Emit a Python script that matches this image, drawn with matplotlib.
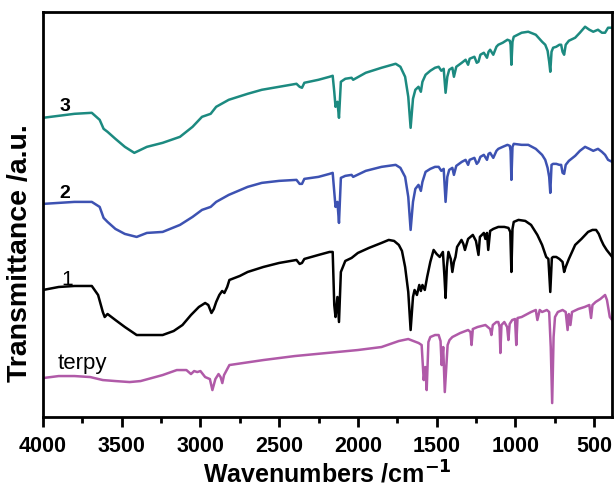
import matplotlib.pyplot as plt

plt.rcParams["font.family"] = ["Liberation Sans", "DejaVu Sans"]

# (wavenumber cm-1, transmittance a.u.)
spec_3 = [
    (4000, 299), (3900, 301), (3800, 303), (3690, 304), (3640, 297), (3615, 288),
    (3590, 285), (3540, 278), (3480, 270), (3420, 264), (3340, 270), (3240, 274),
    (3130, 280), (3050, 290), (2990, 300), (2935, 303), (2900, 310), (2820, 317),
    (2700, 323), (2610, 327), (2500, 330), (2390, 333), (2370, 330), (2355, 329),
    (2340, 334), (2250, 337), (2180, 340), (2160, 341), (2150, 325), (2142, 310),
    (2130, 315), (2120, 299), (2108, 335), (2080, 338), (2040, 339), (2030, 337),
    (1950, 344), (1850, 349), (1760, 353), (1730, 350), (1700, 340), (1680, 320),
    (1665, 289), (1650, 318), (1635, 327), (1615, 330), (1600, 325), (1590, 335),
    (1570, 342), (1540, 346), (1510, 349), (1487, 350), (1470, 346), (1455, 348),
    (1443, 324), (1432, 340), (1420, 347), (1400, 349), (1390, 340), (1375, 350),
    (1340, 354), (1316, 357), (1300, 352), (1290, 358), (1260, 360), (1245, 354),
    (1234, 355), (1222, 362), (1200, 364), (1180, 359), (1170, 365), (1160, 367),
    (1140, 362), (1120, 370), (1108, 372), (1080, 374), (1050, 377), (1035, 376),
    (1030, 372), (1025, 352), (1018, 375), (1010, 380), (960, 384), (918, 385),
    (870, 382), (830, 375), (810, 372), (795, 366), (785, 355), (778, 345),
    (770, 365), (760, 369), (740, 370), (720, 372), (709, 372), (700, 365),
    (690, 362), (680, 372), (660, 376), (620, 379), (590, 384), (557, 390),
    (530, 387), (505, 385), (475, 387), (450, 384), (430, 384), (411, 389), (385, 389),
]

spec_2 = [
    (4000, 213), (3900, 214), (3800, 215), (3690, 215), (3640, 210), (3615, 199),
    (3590, 195), (3540, 188), (3480, 183), (3405, 180), (3340, 184), (3240, 185),
    (3130, 192), (3050, 200), (2990, 207), (2935, 210), (2900, 215), (2820, 222),
    (2700, 230), (2610, 234), (2500, 236), (2390, 237), (2370, 233), (2355, 233),
    (2340, 238), (2250, 240), (2180, 243), (2160, 244), (2150, 225), (2142, 210),
    (2130, 215), (2120, 194), (2108, 239), (2080, 241), (2040, 242), (2030, 240),
    (1950, 246), (1850, 250), (1760, 252), (1730, 249), (1700, 240), (1680, 220),
    (1665, 187), (1650, 215), (1635, 228), (1615, 232), (1600, 226), (1590, 235),
    (1570, 245), (1540, 248), (1510, 250), (1487, 250), (1470, 246), (1455, 248),
    (1443, 215), (1432, 240), (1420, 247), (1400, 249), (1390, 242), (1375, 251),
    (1340, 255), (1316, 257), (1300, 252), (1290, 257), (1260, 259), (1245, 253),
    (1234, 255), (1222, 260), (1200, 262), (1180, 257), (1170, 263), (1160, 264),
    (1140, 259), (1120, 266), (1108, 268), (1080, 270), (1050, 272), (1035, 271),
    (1030, 266), (1025, 237), (1018, 270), (1010, 273), (960, 272), (918, 272),
    (870, 268), (830, 262), (810, 257), (795, 249), (785, 240), (778, 224),
    (770, 252), (760, 253), (740, 253), (720, 252), (709, 252), (700, 244),
    (690, 243), (680, 252), (660, 256), (620, 261), (590, 266), (557, 270),
    (530, 268), (505, 266), (475, 268), (450, 265), (430, 262), (411, 257), (385, 255),
]

spec_1 = [
    (4000, 127), (3900, 130), (3800, 131), (3690, 131), (3650, 122), (3620, 105),
    (3608, 100), (3590, 103), (3540, 97), (3480, 90), (3405, 82), (3300, 82),
    (3240, 82), (3170, 86), (3114, 92), (3060, 102), (3010, 110), (2970, 114),
    (2950, 112), (2930, 104), (2915, 108), (2900, 115), (2880, 122), (2862, 126),
    (2848, 124), (2830, 130), (2816, 137), (2750, 141), (2700, 145), (2600, 150),
    (2500, 154), (2390, 157), (2370, 153), (2355, 154), (2340, 158), (2250, 162),
    (2180, 165), (2160, 165), (2150, 112), (2142, 100), (2130, 120), (2120, 95),
    (2108, 145), (2080, 156), (2040, 159), (2000, 164), (1930, 169), (1850, 174),
    (1804, 177), (1770, 176), (1740, 172), (1720, 166), (1700, 150), (1680, 125),
    (1665, 87), (1650, 120), (1640, 127), (1625, 122), (1610, 132), (1600, 126),
    (1590, 132), (1575, 127), (1560, 140), (1540, 155), (1519, 167), (1500, 163),
    (1480, 160), (1460, 165), (1450, 140), (1443, 119), (1435, 150), (1425, 165),
    (1410, 158), (1400, 145), (1390, 155), (1380, 160), (1370, 170), (1342, 177),
    (1330, 173), (1320, 167), (1300, 178), (1270, 182), (1250, 176), (1234, 162),
    (1225, 180), (1200, 184), (1190, 178), (1180, 184), (1172, 167), (1160, 186),
    (1140, 188), (1108, 190), (1070, 190), (1044, 189), (1032, 185), (1025, 145),
    (1018, 188), (1010, 195), (980, 197), (937, 196), (900, 192), (860, 182),
    (830, 172), (804, 160), (790, 158), (778, 125), (768, 159), (760, 160),
    (740, 160), (720, 158), (700, 155), (690, 145), (680, 150), (660, 158),
    (620, 172), (580, 178), (538, 185), (510, 187), (487, 187), (470, 183),
    (455, 177), (440, 172), (420, 167), (385, 160),
]

spec_terpy = [
    (4000, 39), (3900, 41), (3800, 41), (3700, 40), (3620, 37), (3540, 36),
    (3450, 35), (3380, 36), (3240, 42), (3150, 47), (3089, 47), (3060, 43),
    (3040, 46), (3020, 45), (3000, 46), (2970, 40), (2940, 38), (2924, 27),
    (2905, 38), (2885, 43), (2872, 40), (2861, 34), (2850, 42), (2816, 52),
    (2600, 57), (2400, 61), (2200, 64), (2000, 67), (1850, 70), (1740, 76),
    (1680, 78), (1614, 74), (1595, 72), (1582, 37), (1572, 50), (1563, 27),
    (1552, 75), (1540, 80), (1510, 82), (1487, 82), (1475, 76), (1468, 52),
    (1458, 70), (1448, 25), (1430, 72), (1418, 77), (1400, 80), (1350, 84),
    (1300, 87), (1285, 85), (1278, 72), (1270, 88), (1240, 90), (1190, 92),
    (1160, 88), (1152, 82), (1143, 92), (1120, 95), (1108, 95), (1100, 90),
    (1095, 64), (1088, 92), (1070, 95), (1052, 90), (1044, 77), (1036, 93),
    (1020, 97), (1002, 98), (994, 72), (986, 99), (960, 100), (900, 105),
    (870, 107), (860, 97), (845, 107), (830, 105), (800, 107), (785, 105),
    (775, 70), (766, 14), (757, 80), (748, 100), (730, 105), (700, 107),
    (680, 105), (668, 87), (660, 103), (650, 92), (640, 105), (600, 108),
    (560, 110), (530, 112), (519, 99), (510, 112), (490, 115), (460, 118),
    (430, 122), (418, 117), (400, 100), (385, 97),
]

labels = ["3", "2", "1", "terpy"]
label_y = [307, 220, 133, 49]


def main():
    fig = plt.figure(figsize=(6.14, 4.89), dpi=100)
    ax = fig.add_axes([0.070, 0.145, 0.927, 0.829])

    series = [
        (spec_terpy, "#B05AA8"),
        (spec_1, "black"),
        (spec_2, "#3D52B2"),
        (spec_3, "#1C8A80"),
    ]
    for spec, col in series:
        x, y = zip(*spec)
        ax.plot(x, y, color=col, lw=1.8)

    for lab, y in zip(labels, label_y):
        if lab == "terpy":
            ax.text(3905, y, lab, fontsize=16, va="baseline")
        elif lab == "1":
            ax.text(3880, y, lab, fontsize=15, va="baseline")
        else:
            ax.text(3895, y, lab, fontsize=14, fontweight="bold", va="baseline")

    ax.set_xlim(4000, 385)
    ax.set_ylim(0, 405)
    ax.set_xticks([4000, 3500, 3000, 2500, 2000, 1500, 1000, 500])
    ax.set_xticks([3750, 3250, 2750, 2250, 1750, 1250, 750], minor=True)
    ax.set_yticks([])
    ax.tick_params(axis="x", which="major", direction="out", length=7, width=2,
                   labelsize=15.5, pad=6)
    ax.tick_params(axis="x", which="minor", direction="out", length=4, width=2)
    for lab in ax.get_xticklabels():
        lab.set_fontweight("bold")
    for s in ax.spines.values():
        s.set_linewidth(2)

    ax.set_xlabel("Wavenumbers /cm$^{\\mathbf{-1}}$", fontsize=18, fontweight="bold",
                  labelpad=3)
    ax.set_ylabel("Transmittance /a.u.", fontsize=20.5, fontweight="bold")
    ax.yaxis.set_label_coords(-0.018, 0.406)

    fig.savefig("out.png", dpi=100)
    plt.close(fig)


if __name__ == "__main__":
    main()
